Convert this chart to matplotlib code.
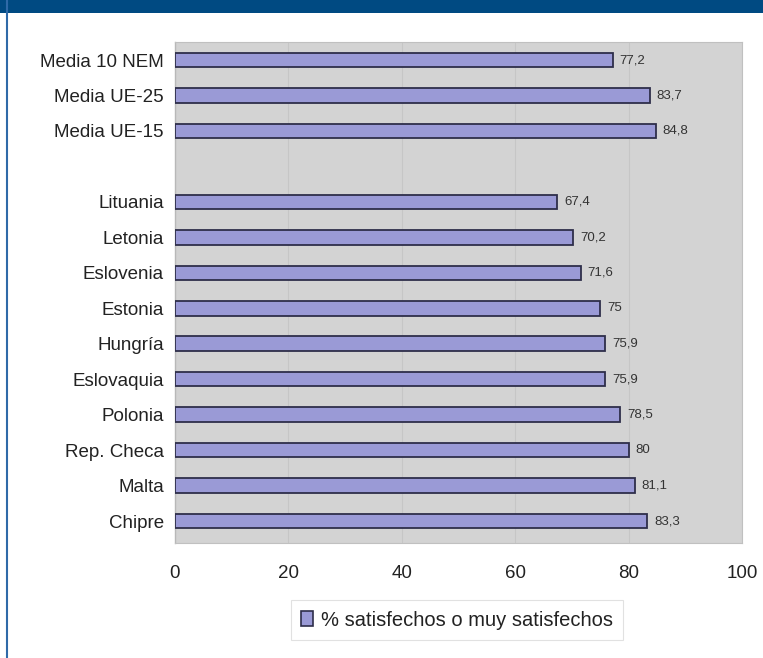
import numpy as np
import matplotlib
matplotlib.use('Agg')
import matplotlib.pyplot as plt
from matplotlib.patches import Rectangle, Patch
from matplotlib.lines import Line2D

#
#--- satisfaction data: averages first, then countries
#
labels = ['Media 10 NEM', 'Media UE-25', 'Media UE-15',
          'Lituania', 'Letonia', 'Eslovenia', 'Estonia', 'Hungría',
          'Eslovaquia', 'Polonia', 'Rep. Checa', 'Malta', 'Chipre']
values = [77.2, 83.7, 84.8,
          67.4, 70.2, 71.6, 75, 75.9,
          75.9, 78.5, 80, 81.1, 83.3]
n_avg  = 3
xticks = [0, 20, 40, 60, 80, 100]
legend_name = '% satisfechos o muy satisfechos'

bar_col  = '#9a9ad6'
edge_col = '#2e2e4a'
back_col = '#d3d3d3'
head_col = '#004a82'
txt_col  = '#222222'

plt.rcParams['font.family'] = ['Liberation Sans', 'DejaVu Sans']

#
#--- leave an empty slot between the averages and the countries
#
ypos = [i if i < n_avg else i + 1 for i in range(len(labels))]

fig = plt.figure(figsize=(7.63, 6.58), dpi=100)
fig.patch.set_facecolor('white')

#
#--- header band and left frame line
#
fig.patches.append(Rectangle((0, 1 - 13 / 658.), 1, 13 / 658., transform=fig.transFigure,
                             facecolor=head_col, edgecolor='none', zorder=0))
fig.lines.append(Line2D([7 / 763., 7 / 763.], [0, 1], transform=fig.transFigure,
                        color='#2f6aa8', lw=1.5))

ax = fig.add_axes([175 / 763., 1 - 543 / 658., (742 - 175) / 763., (543 - 42) / 658.])
ax.set_facecolor(back_col)

ax.barh(ypos, values, height=0.41, color=bar_col, edgecolor=edge_col, linewidth=1.3, zorder=3)

for y, v in zip(ypos, values):
    txt = ('%g' % v).replace('.', ',')
    ax.text(v + 1.2, y, txt, va='center', ha='left', fontsize=9.5, color='#333333', zorder=4)

ax.set_xlim(0, 100)
ax.set_ylim(13.62, -0.51)
ax.set_xticks(xticks)
ax.set_xticklabels([str(t) for t in xticks], fontsize=13.5, color=txt_col)
ax.set_yticks(ypos)
ax.set_yticklabels(labels, fontsize=13.5, color=txt_col)
ax.tick_params(axis='both', length=0)
ax.tick_params(axis='x', pad=16)
ax.tick_params(axis='y', pad=8)

for x in xticks[1:-1]:
    ax.axvline(x, color='#c6c6c6', lw=0.8, zorder=1)

for side in ['top', 'right', 'bottom']:
    ax.spines[side].set_color('#c0c0c0')
    ax.spines[side].set_linewidth(0.8)
ax.spines['left'].set_color('#b8b8b8')
ax.spines['left'].set_linewidth(1.0)

#
#--- legend under the plot
#
handle = Patch(facecolor=bar_col, edgecolor=edge_col, linewidth=1.2)
leg = fig.legend([handle], [legend_name], loc='center',
                 bbox_to_anchor=(457 / 763., 1 - 620 / 658.), fontsize=14.5,
                 frameon=True, fancybox=False, handlelength=0.6, handleheight=0.8,
                 handletextpad=0.4, borderpad=0.5, labelcolor=txt_col)
leg.get_frame().set_edgecolor('#dadada')
leg.get_frame().set_linewidth(0.8)

plt.savefig('out.png', dpi=100, facecolor='white')
plt.close('all')
